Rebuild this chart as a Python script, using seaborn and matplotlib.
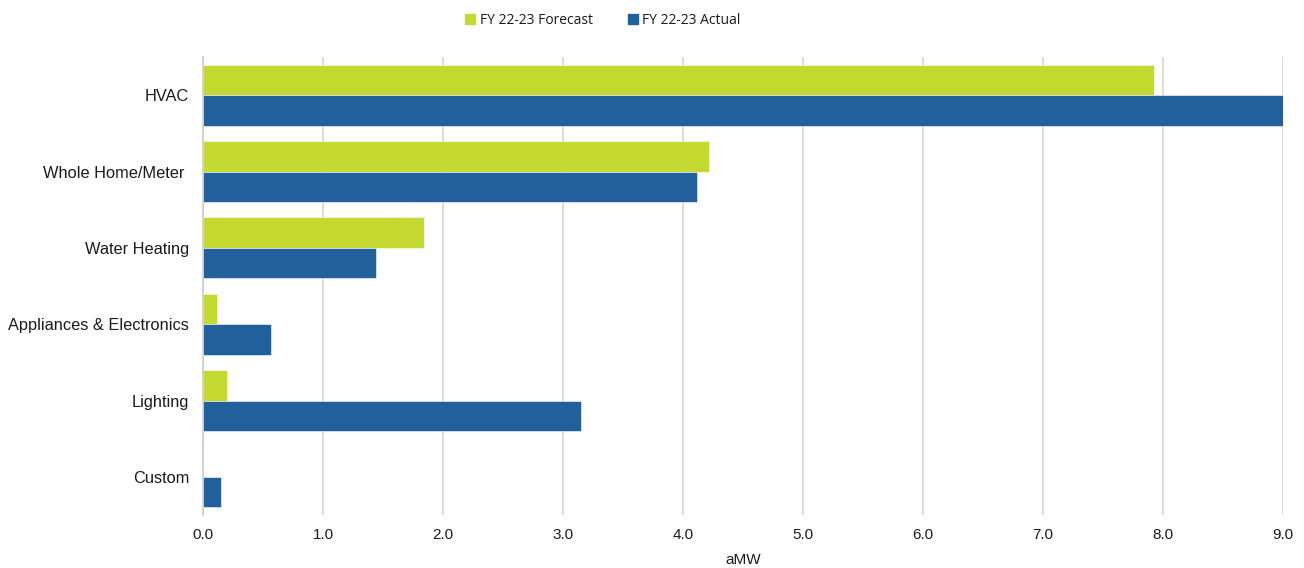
import pandas as pd
import matplotlib.pyplot as plt
import seaborn as sns

# 데이터
categories = ["HVAC", "Whole Home/Meter ", "Water Heating", "Appliances & Electronics", "Lighting", "Custom"]
forecast = [7.92, 4.22, 1.84, 0.12, 0.20, 0.0]
actual = [9.02, 4.12, 1.44, 0.57, 3.15, 0.15]
series = ["FY 22-23 Forecast", "FY 22-23 Actual"]
x_ticks = [0, 1, 2, 3, 4, 5, 6, 7, 8, 9]

df = pd.DataFrame({
    "category": categories * 2,
    "value": forecast + actual,
    "series": [series[0]] * len(categories) + [series[1]] * len(categories),
})

sns.set_style("white")
plt.rcParams['font.family'] = ['Liberation Sans', 'DejaVu Sans']
plt.rcParams['text.color'] = "#1a1a1a"
plt.rcParams['xtick.color'] = "#1a1a1a"
plt.rcParams['ytick.color'] = "#1a1a1a"
plt.rcParams['axes.labelcolor'] = "#1a1a1a"

palette = {series[0]: "#c3d92f", series[1]: "#21609b"}

fig = plt.figure(figsize=(13.04, 5.68), dpi=100)
ax = fig.add_axes([0.1557, 0.0933, 0.8283, 0.8063])

sns.barplot(data=df, y="category", x="value", hue="series", orient="h",
            palette=palette, width=0.8, saturation=1, ax=ax,
            edgecolor="#ffffff", linewidth=0.4, legend=False)

ax.set_xlim(0, 9.0)
ax.set_ylim(5.5, -0.5)
ax.set_xticks(x_ticks)
ax.set_xticklabels([f"{t:.1f}" for t in x_ticks], fontsize=11)
ax.tick_params(axis="y", labelsize=11.8, length=0, pad=10)
ax.tick_params(axis="x", length=0, pad=9)
ax.set_xlabel("aMW", fontsize=11, labelpad=8)
ax.set_ylabel("")

ax.grid(axis="x", color="#dcdcdc", linewidth=1.4)
ax.set_axisbelow(True)
for s in ["top", "right", "bottom"]:
    ax.spines[s].set_visible(False)
ax.spines["left"].set_color("#cccccc")
ax.spines["left"].set_linewidth(1.2)

# 범례
handles = [plt.Line2D([], [], marker="s", linestyle="", markersize=7,
                      color=palette[s]) for s in series]
fig.legend(handles, series, loc="upper center", bbox_to_anchor=(0.4624, 1.0),
           ncol=2, frameon=False, handletextpad=0.35, handlelength=0.7,
           columnspacing=2.5, prop={"family": "Open Sans", "size": 10})

fig.savefig("out.png", dpi=100)
